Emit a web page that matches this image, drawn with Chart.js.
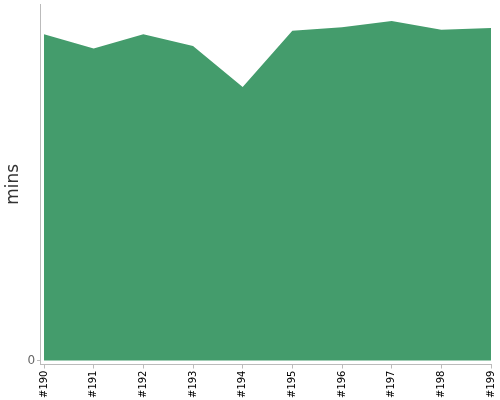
<!DOCTYPE html>
<html>
<head>
<meta charset="utf-8">
<script src="https://cdn.jsdelivr.net/npm/chart.js@4/dist/chart.umd.min.js"></script>
<style>
  html, body { margin: 0; padding: 0; background: #fff; }
</style>
</head>
<body>
<canvas id="runChart" width="500" height="400"></canvas>
<script>
const runLabels = ["#190", "#191", "#192", "#193", "#194", "#195", "#196", "#197", "#198", "#199"];
const minutes = [36.6, 35.0, 36.6, 35.3, 30.7, 37.0, 37.4, 38.1, 37.1, 37.3];
const yTicks = [0];

const ctx = document.getElementById("runChart").getContext("2d");
new Chart(ctx, {
  type: "line",
  data: {
    datasets: [
      {
        data: minutes.map((m, i) => ({ x: i, y: m })),
        fill: "origin",
        backgroundColor: "#449c6c",
        borderWidth: 0,
        pointRadius: 0,
        tension: 0,
      },
    ],
  },
  options: {
    responsive: false,
    animation: false,
    layout: {
      padding: { top: 4, right: 9, left: 2, bottom: 0 },
    },
    plugins: {
      legend: { display: false },
      tooltip: { enabled: false },
    },
    scales: {
      x: {
        type: "linear",
        min: -0.08,
        max: runLabels.length - 1,
        afterBuildTicks(axis) {
          axis.ticks = runLabels.map((_, i) => ({ value: i }));
        },
        afterFit(axis) {
          axis.paddingRight = 0;
          axis.paddingLeft = 0;
        },
        ticks: {
          minRotation: 90,
          maxRotation: 90,
          autoSkip: false,
          padding: 2,
          color: "#000",
          font: { family: "DejaVu Sans", size: 10 },
          callback: (v) => runLabels[v],
        },
        grid: {
          drawOnChartArea: false,
          tickLength: 4,
          color: "#bbb",
        },
        border: { color: "#bbb" },
      },
      y: {
        min: -0.45,
        max: 40,
        afterBuildTicks(axis) {
          axis.ticks = yTicks.map((v) => ({ value: v }));
        },
        afterFit(axis) {
          axis.paddingTop = 0;
          axis.paddingBottom = 0;
        },
        ticks: {
          padding: 2,
          color: "#666",
          font: { family: "DejaVu Sans", size: 12 },
        },
        grid: {
          drawOnChartArea: false,
          tickLength: 3,
          color: "#bbb",
        },
        border: { color: "#bbb" },
        title: {
          display: true,
          text: "mins",
          color: "#333",
          padding: { top: 1, bottom: 2 },
          font: { family: "DejaVu Sans", size: 17 },
        },
      },
    },
  },
});
</script>
</body>
</html>
